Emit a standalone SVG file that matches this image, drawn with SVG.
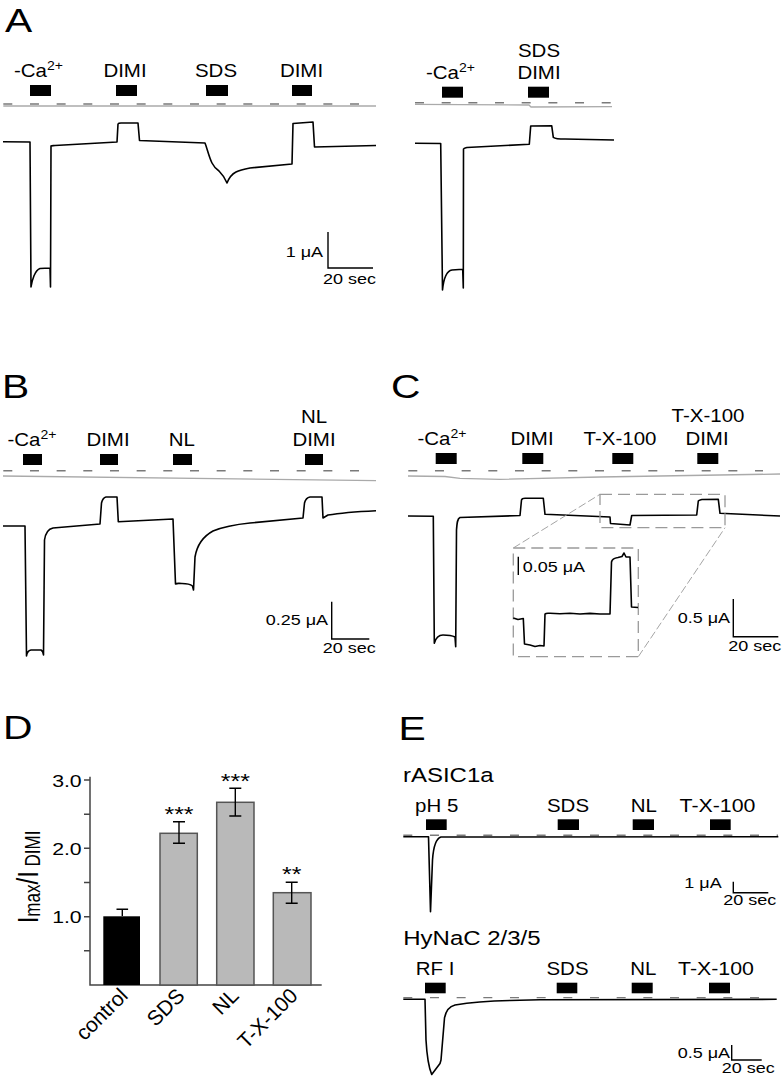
<svg xmlns="http://www.w3.org/2000/svg" width="783" height="1078" viewBox="0 0 783 1078">
<style>
text{font-family:"Liberation Sans",Arial,Helvetica,sans-serif;fill:#000}
.pl{font-size:34px}
.lb{font-size:17.5px}
.sc{font-size:15px}
.big{font-size:20.5px}
.tk{font-size:17px}
.xl{font-size:21px}
.tr{fill:none;stroke:#000;stroke-width:1.6;stroke-linejoin:round}
.sb{fill:none;stroke:#000;stroke-width:1.4}
.dl{fill:none;stroke:#7a7a7a;stroke-width:1.4;stroke-dasharray:9 17.67}
.gl{fill:none;stroke:#aaa;stroke-width:1.3}
.box{fill:none;stroke:#9a9a9a;stroke-width:1.3;stroke-dasharray:12 6}
.zl{fill:none;stroke:#9a9a9a;stroke-width:0.9;stroke-dasharray:8 3}
.bar{fill:#000}
.gb{fill:#b9b9b9;stroke:#555;stroke-width:1.5}
.ax{fill:none;stroke:#444;stroke-width:1.5}
.eb{fill:none;stroke:#000;stroke-width:1.4}
</style>

<g id="panelA">
<text class="pl" transform="translate(5,32) scale(1.2,1)">A</text>
<text class="lb" transform="translate(14,76.7) scale(1.17,1)">-Ca<tspan font-size="12" dy="-7">2+</tspan></text>
<text class="lb" transform="translate(125,76.7) scale(1.17,1)" text-anchor="middle">DIMI</text>
<text class="lb" transform="translate(216,76.7) scale(1.17,1)" text-anchor="middle">SDS</text>
<text class="lb" transform="translate(301.5,76.7) scale(1.17,1)" text-anchor="middle">DIMI</text>
<rect class="bar" x="30" y="85" width="21" height="11"/>
<rect class="bar" x="116" y="85" width="21" height="11"/>
<rect class="bar" x="206" y="85" width="22" height="11"/>
<rect class="bar" x="292" y="85" width="20" height="11"/>
<path class="dl" d="M3.3,104 L360,104"/>
<path class="gl" d="M3.3,106 L376,106"/>
<path class="tr" d="M3,141.7 L30,142 L31,287 C32,280 35,270 40,268.5 L50,268 L50.5,287 L51,146 C52,145.5 53,145.7 55,145.5 L117,142 L118,124 C118.5,123 119.5,123 121,123 L138,123 L139.5,140.5 L205,143 C207,148 209,157 212,163 C214,167 216,169 219,171 C222,174 225,178 227,183 C229,178 232,174 236,172 C240,170 245,169 250,168 L292,164 L293,123.5 L313,122 L314.5,147 L376,145.5"/>
<path class="sb" d="M328,232 L328,268 L373,268"/>
<text class="sc" transform="translate(323,257) scale(1.2,1)" text-anchor="end">1 μA</text>
<text class="sc" transform="translate(323,284) scale(1.2,1)">20 sec</text>
</g>

<g id="panelA2">
<text class="lb" transform="translate(539,57) scale(1.17,1)" text-anchor="middle">SDS</text>
<text class="lb" transform="translate(426,79.3) scale(1.17,1)">-Ca<tspan font-size="12" dy="-7">2+</tspan></text>
<text class="lb" transform="translate(539,79.3) scale(1.17,1)" text-anchor="middle">DIMI</text>
<rect class="bar" x="442" y="86.7" width="21" height="11"/>
<rect class="bar" x="528" y="86.7" width="21" height="11"/>
<path class="dl" d="M415,102.7 L612,102.7"/>
<path class="gl" d="M415,104.3 L529,105 L531,107 L612,106.7"/>
<path class="tr" d="M415,143.3 L440.7,143.5 L442.5,290 C443.5,280 446,271 452,270 L462.7,269.3 L463.3,288 L463.5,149 C464,148 465,148 467,147.5 L529.3,144.3 L530.7,126 L551.7,125.7 L553.3,137.3 C555,138.5 560,139 565,139 L614,140"/>
</g>

<g id="panelB">
<text class="pl" transform="translate(2,398) scale(1.2,1)">B</text>
<text class="lb" transform="translate(7.5,446) scale(1.17,1)">-Ca<tspan font-size="12" dy="-7">2+</tspan></text>
<text class="lb" transform="translate(108,446) scale(1.17,1)" text-anchor="middle">DIMI</text>
<text class="lb" transform="translate(181.7,446) scale(1.17,1)" text-anchor="middle">NL</text>
<text class="lb" transform="translate(314,422.7) scale(1.17,1)" text-anchor="middle">NL</text>
<text class="lb" transform="translate(314,446) scale(1.17,1)" text-anchor="middle">DIMI</text>
<rect class="bar" x="23" y="454" width="19" height="11"/>
<rect class="bar" x="100" y="454" width="18" height="11"/>
<rect class="bar" x="173" y="454" width="19" height="11"/>
<rect class="bar" x="305" y="454" width="18" height="11"/>
<path class="dl" d="M3.3,470.7 L360,470.7"/>
<path class="gl" d="M3,476 C100,478 200,479.5 376,480.7"/>
<path class="tr" d="M3,526 L25,526 L26.5,656 C27,652 28.5,650.5 31,650 L41,650 C42,650.5 43,651 43.5,655 L44.5,540 C45.5,533 48,529 53,528 L100,524 L101.5,503 C102.5,499 104,497.5 106,497 L117,497 L118.3,521.7 L173,519 L175.5,584 C177,583 178,583.5 182,583.5 C187,583.5 190,584 192.5,586 L193.5,590 L195,557 C197,545 202,537 213,531 C225,526 240,524 250,523 L303,518 L304.5,503 C305.5,499 307,497.5 310,497 L322,497 L323,518 L328,515 C340,513 360,511.5 376,510.7"/>
<path class="sb" d="M331.7,601.7 L331.7,639 L369.3,639"/>
<text class="sc" transform="translate(328,625) scale(1.2,1)" text-anchor="end">0.25 μA</text>
<text class="sc" transform="translate(322.7,653.3) scale(1.2,1)">20 sec</text>
</g>

<g id="panelC">
<text class="pl" transform="translate(391,398) scale(1.2,1)">C</text>
<text class="lb" transform="translate(417.5,445) scale(1.17,1)">-Ca<tspan font-size="12" dy="-7">2+</tspan></text>
<text class="lb" transform="translate(532,445) scale(1.17,1)" text-anchor="middle">DIMI</text>
<text class="lb" transform="translate(620,445) scale(1.17,1)" text-anchor="middle">T-X-100</text>
<text class="lb" transform="translate(708,422.3) scale(1.17,1)" text-anchor="middle">T-X-100</text>
<text class="lb" transform="translate(707,445) scale(1.17,1)" text-anchor="middle">DIMI</text>
<rect class="bar" x="435.7" y="453" width="21" height="11"/>
<rect class="bar" x="522.3" y="453" width="21" height="11"/>
<rect class="bar" x="612.3" y="453" width="21" height="11"/>
<rect class="bar" x="697.3" y="453" width="21" height="11"/>
<path class="dl" d="M408.3,470.7 L763,470.7"/>
<path class="gl" d="M408,476 L445,476.5 L460,478.3 L500,479.3 L600,477 L780,474"/>
<path class="tr" d="M408,516 L433.3,516.3 L434.3,643.3 C436,637 439,635 443,635 C450,635 453,636 455,637 L455.7,646.7 L456.5,530 C457,522 457.5,518.5 460,517.5 L520,515.5 L521.5,500 C522,498.5 523,498.3 525,498.3 L543.3,498.3 L545,514.3 L610,517 L610.5,523.5 L630,525 L631.7,515.5 L696.7,515 L698.3,501 C699,500 700,500 702,499.5 L718.3,499.3 L720,513.3 L780,516"/>
<rect class="box" x="600" y="494.3" width="125" height="33.4"/>
<rect class="box" x="513.3" y="548" width="125" height="108.7"/>
<path class="zl" d="M513.3,548 L600,494.3 M638.3,656.7 L725,527.7"/>
<path class="tr" stroke-width="1.4" d="M513.3,618 L518,619.5 L523.3,618.5 L524.5,644 L530,645 L535,646.5 L540,645.5 L544,646 L545,614 C546,613 547,613.3 550,613.3 L560,613.8 L570,613.2 L580,614 L590,613.4 L600,614 L610,614 L611.5,562 C612,559 614,558 618,557.5 L622,556.5 L624,553 L626,557 L630,557 L631.5,607 L638,607.5"/>
<path class="sb" d="M518.3,556.7 L518.3,575"/>
<text class="sc" transform="translate(522.7,572.3) scale(1.2,1)">0.05 μA</text>
<path class="sb" d="M733.3,599 L733.3,636.7 L778.3,636.7"/>
<text class="sc" transform="translate(730,623.3) scale(1.2,1)" text-anchor="end">0.5 μA</text>
<text class="sc" transform="translate(728.3,650.7) scale(1.2,1)">20 sec</text>
</g>

<g id="panelD">
<text class="pl" transform="translate(3,739.3) scale(1.2,1)">D</text>
<text transform="translate(37.5,923.3) scale(1.25,1) rotate(-90)" font-size="24">I<tspan font-size="17" dy="2">max</tspan><tspan dy="-2">/I</tspan><tspan font-size="17" dy="2"> DIMI</tspan></text>
<path class="ax" d="M90,776.7 L90,985 L321.7,985 M84,780 L90,780 M84,814.2 L90,814.2 M84,848.3 L90,848.3 M84,882.5 L90,882.5 M84,916.7 L90,916.7 M84,950.8 L90,950.8"/>
<text class="tk" transform="translate(81.7,786.7) scale(1.25,1)" text-anchor="end">3.0</text>
<text class="tk" transform="translate(81.7,855) scale(1.25,1)" text-anchor="end">2.0</text>
<text class="tk" transform="translate(81.7,923.3) scale(1.25,1)" text-anchor="end">1.0</text>
<rect class="bar" x="103.3" y="916.3" width="36.7" height="68.7"/>
<rect class="gb" x="160" y="833.3" width="37.3" height="151.7"/>
<rect class="gb" x="216.7" y="802.3" width="37.3" height="182.7"/>
<rect class="gb" x="273.3" y="892.7" width="37.7" height="92.3"/>
<path class="eb" d="M122.3,916 L122.3,909.3 M116.5,909.3 L128.1,909.3 M179,821.7 L179,843.3 M173,821.7 L185,821.7 M173,843.3 L185,843.3 M235.3,788.3 L235.3,816 M229.3,788.3 L241.3,788.3 M229.3,816 L241.3,816 M291.7,882.3 L291.7,903.3 M285.7,882.3 L297.7,882.3 M285.7,903.3 L297.7,903.3"/>
<text font-size="20" transform="translate(179,821) scale(1.25,1)" text-anchor="middle">***</text>
<text font-size="20" transform="translate(235.3,787.6) scale(1.25,1)" text-anchor="middle">***</text>
<text font-size="20" transform="translate(291.7,881) scale(1.25,1)" text-anchor="middle">**</text>
<text class="xl" transform="translate(129,997) rotate(-45)" text-anchor="end">control</text>
<text class="xl" transform="translate(186,997) rotate(-45)" text-anchor="end">SDS</text>
<text class="xl" transform="translate(240,997) rotate(-45)" text-anchor="end">NL</text>
<text class="xl" transform="translate(299,997) rotate(-45)" text-anchor="end">T-X-100</text>
</g>

<g id="panelE">
<text class="pl" transform="translate(398.5,740) scale(1.2,1)">E</text>
<text font-size="20.5" transform="translate(403,781.7) scale(1.17,1)">rASIC1a</text>
<text class="lb" transform="translate(436.7,811.7) scale(1.17,1)" text-anchor="middle">pH 5</text>
<text class="lb" transform="translate(568,811.7) scale(1.17,1)" text-anchor="middle">SDS</text>
<text class="lb" transform="translate(643.7,811.7) scale(1.17,1)" text-anchor="middle">NL</text>
<text class="lb" transform="translate(717.5,811.7) scale(1.22,1)" text-anchor="middle">T-X-100</text>
<rect class="bar" x="426" y="819.3" width="20.7" height="10.7"/>
<rect class="bar" x="557.7" y="819.3" width="21.3" height="10.7"/>
<rect class="bar" x="632.7" y="819.3" width="21.3" height="10.7"/>
<rect class="bar" x="710" y="819.3" width="20.7" height="10.7"/>
<path class="dl" d="M403.3,835.2 L778,835.2"/>
<path class="tr" d="M403.3,836.7 L428.5,836.7 L430.5,911.7 L432.5,860 C433.5,845 436,838.5 441,837 L778.3,836.7"/>
<path class="sb" d="M733.3,881.7 L733.3,892.7 L768.3,892.7"/>
<text class="sc" transform="translate(721.7,888.3) scale(1.2,1)" text-anchor="end">1 μA</text>
<text class="sc" transform="translate(723.3,905) scale(1.2,1)">20 sec</text>

<text font-size="20.5" transform="translate(403.3,945) scale(1.17,1)">HyNaC 2/3/5</text>
<text class="lb" transform="translate(435,975) scale(1.17,1)" text-anchor="middle">RF I</text>
<text class="lb" transform="translate(567.5,975) scale(1.17,1)" text-anchor="middle">SDS</text>
<text class="lb" transform="translate(643.3,975) scale(1.17,1)" text-anchor="middle">NL</text>
<text class="lb" transform="translate(716,975) scale(1.22,1)" text-anchor="middle">T-X-100</text>
<rect class="bar" x="425" y="982.7" width="20.7" height="10.6"/>
<rect class="bar" x="556.7" y="982.7" width="20.6" height="10.6"/>
<rect class="bar" x="631.7" y="982.7" width="21" height="10.6"/>
<rect class="bar" x="709" y="982.7" width="21" height="10.6"/>
<path class="dl" d="M403.3,997.6 L776,997.6"/>
<path class="tr" d="M403.3,999.3 L425,999.3 L426,1040 C427,1058 429,1068 431.7,1074.5 L440,1063.5 L441,1060 L444.5,1018 C446,1010 449,1006.5 455,1005 C470,1002.5 490,1001 510,1000.5 L540,999.8 L776.7,999.3"/>
<path class="sb" d="M731.7,1045 L731.7,1060 L761.7,1060"/>
<text class="sc" transform="translate(730,1058.3) scale(1.2,1)" text-anchor="end">0.5 μA</text>
<text class="sc" transform="translate(721.7,1073.3) scale(1.2,1)">20 sec</text>
</g>
</svg>
